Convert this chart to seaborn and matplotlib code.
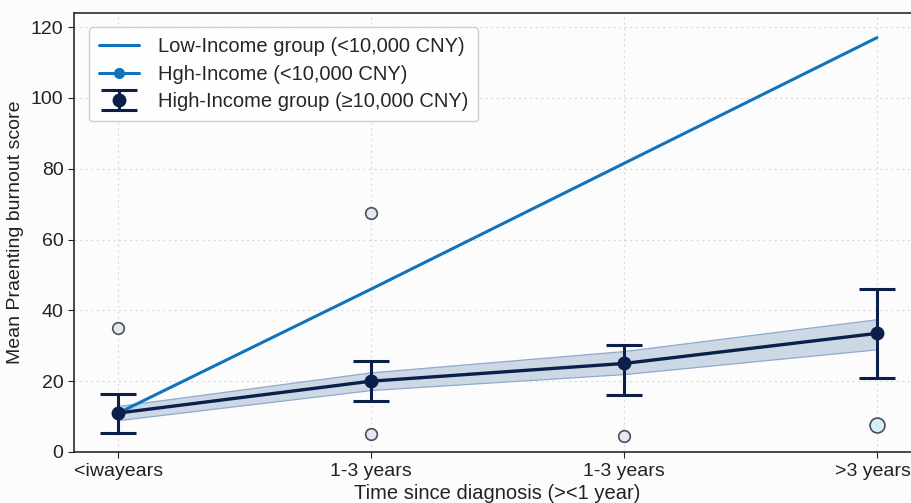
import matplotlib
matplotlib.use("Agg")
import matplotlib.pyplot as plt
import matplotlib.transforms as mtransforms
from matplotlib.lines import Line2D
import seaborn as sns
import pandas as pd
import numpy as np

# Categories along the x axis
tick_labels = ["<iwayears", "1-3 years", "1-3 years", ">3 years"]
x_pos = [0, 1, 2, 3]

# Low-income group mean scores
low_income = [11, 46, 81.5, 117]

# High-income group means, error bar limits and confidence band
high_income = [11, 20, 25, 33.5]
err_low = [5.5, 14.5, 16, 21]
err_high = [16.5, 25.8, 30.2, 46]
band_low = [9, 17.5, 22, 29]
band_high = [13, 22.5, 28.5, 37.5]

# Individual outlying observations
out_x = [0, 1, 1, 2]
out_y = [35, 67.5, 5, 4.5]
out2_x = [3]
out2_y = [7.5]

sns.set_theme(style="whitegrid")
plt.rcParams["font.family"] = ["Liberation Sans", "DejaVu Sans"]

blue = "#0f74bb"
navy = "#0b1f4b"

fig = plt.figure(figsize=(9.11, 5.03), dpi=100)
fig.patch.set_facecolor("#fcfcfc")
ax = fig.add_axes([0.0812, 0.1014, 0.93, 0.873])
ax.set_facecolor("#fcfcfd")

df_low = pd.DataFrame({"x": x_pos, "y": low_income})
df_high = pd.DataFrame({"x": x_pos, "y": high_income})

ax.fill_between(x_pos, band_low, band_high, color="#cdd8e5", edgecolor="#90a9cc",
                linewidth=0.9, zorder=2)
sns.lineplot(data=df_low, x="x", y="y", color=blue, linewidth=2.2, ax=ax, zorder=3)
sns.lineplot(data=df_high, x="x", y="y", color=navy, linewidth=2.4, ax=ax, zorder=4)

yerr = np.array([np.array(high_income) - np.array(err_low),
                 np.array(err_high) - np.array(high_income)])
eb = ax.errorbar(x_pos, high_income, yerr=yerr, fmt="o", color=navy, markersize=9,
                 elinewidth=2.2, capsize=13, capthick=2.2, zorder=5)

sns.scatterplot(x=out_x, y=out_y, s=70, facecolor="#e4e9f1", edgecolor="#4a4f58",
                linewidth=1.2, ax=ax, zorder=5)
sns.scatterplot(x=out2_x, y=out2_y, s=115, facecolor="#d3eef6", edgecolor="#4a4f58",
                linewidth=1.2, ax=ax, zorder=5)

ax.set_xlim(-0.175, 3.175)
ax.set_ylim(0, 124)
ax.set_xticks(x_pos)
ax.set_xticklabels(tick_labels)
ax.set_yticks([0, 20, 40, 60, 80, 100, 120])
ax.tick_params(axis="both", labelsize=14, colors="#222222", length=4, width=0.8,
               direction="out", bottom=True, left=True)
ax.tick_params(axis="x", pad=4)

# keep the last category label inside the canvas
last = ax.get_xticklabels()[-1]
last.set_transform(last.get_transform()
                   + mtransforms.ScaledTranslation(-4 / 100, 0, fig.dpi_scale_trans))

ax.grid(True, linestyle=(0, (2, 3)), color="#dadada", linewidth=0.8)
for side in ["left", "bottom", "top"]:
    ax.spines[side].set_visible(True)
    ax.spines[side].set_color("#2a2a2a")
    ax.spines[side].set_linewidth(1.2)
ax.spines["right"].set_visible(False)

ax.set_xlabel("Time since diagnosis (><1 year)", fontsize=14.5, color="#222222", labelpad=3)
ax.set_ylabel("Mean Praenting burnout score", fontsize=14, color="#222222", labelpad=5)

handles = [
    Line2D([], [], color=blue, linewidth=2.2),
    Line2D([], [], color=blue, linewidth=2.2, marker="o", markersize=7),
    eb,
]
labels = ["Low-Income group (<10,000 CNY)", "Hgh-Income (<10,000 CNY)",
          "High-Income group (≥10,000 CNY)"]
leg = ax.legend(handles, labels, loc="upper left", fontsize=14.5, frameon=True,
                bbox_to_anchor=(0.006, 0.99), borderpad=0.5, labelspacing=0.42,
                handlelength=2.0, handletextpad=0.9)
leg.get_frame().set_edgecolor("#cccccc")
leg.get_frame().set_facecolor("white")
leg.get_frame().set_alpha(0.95)

fig.savefig("out.png", dpi=100, facecolor=fig.get_facecolor())
